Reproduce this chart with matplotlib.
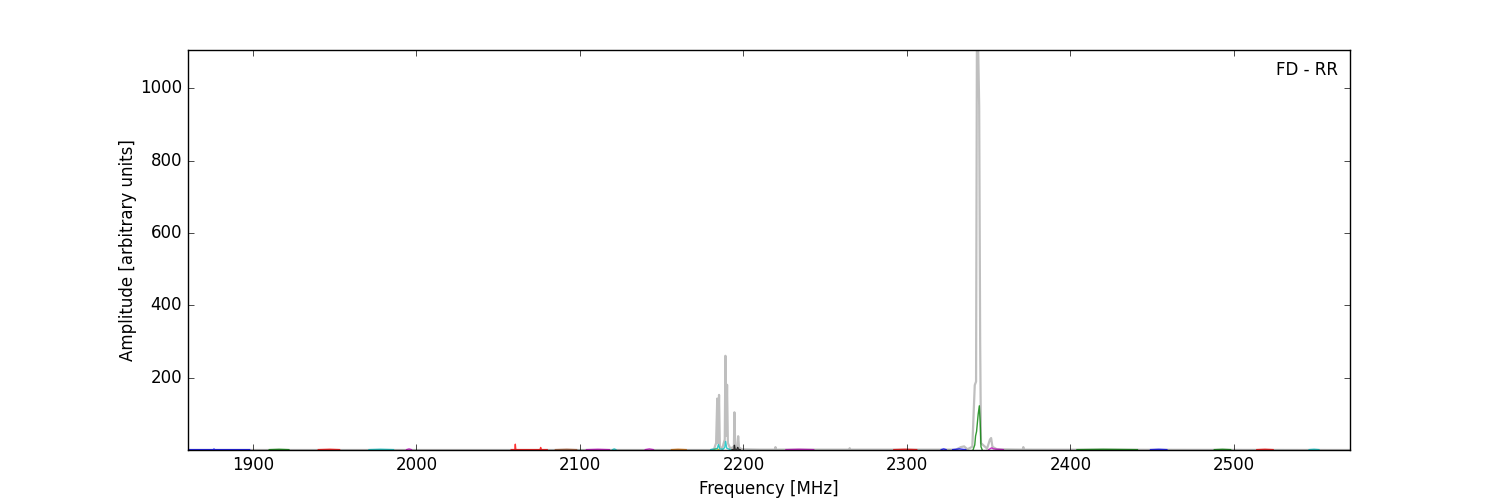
import numpy as np
import matplotlib
matplotlib.use('Agg')
from matplotlib import pyplot as plt

# Espectro total (cinza)
freq_total = [1860, 2180, 2182, 2183.3, 2184.0, 2184.5, 2185.1, 2185.6, 2187, 2188.6,
              2189.0, 2189.5, 2190.0, 2190.5, 2192, 2194.2, 2194.5, 2195, 2196.3, 2196.8,
              2197.3, 2199, 2210, 2219.3, 2219.6, 2220, 2264.8, 2265, 2265.3, 2330,
              2333, 2335, 2337, 2340, 2341.5, 2342.3, 2342.8, 2343.6, 2344.2, 2344.8,
              2345.3, 2349, 2350.8, 2351.5, 2352.3, 2355, 2370.8, 2371.2, 2371.6, 2571]
amp_total = [1, 1, 3, 20, 143, 20, 153, 10, 5, 30,
             261, 40, 181, 20, 5, 10, 105, 8, 10, 39,
             8, 3, 2, 2, 9, 2, 2, 6, 2, 2,
             9, 11, 3, 10, 180, 190, 1105, 1105, 950, 300,
             20, 5, 30, 34, 10, 3, 2, 9, 2, 1]

# Componentes individuais (coloridos)
seg_freqs = [
    [1860, 1860.4, 1861, 1875.8, 1876.2, 1876.6, 1898],
    [1910, 1916, 1922],
    [1940, 1947, 1953],
    [1971, 1978, 1986],
    [1994, 1995.5, 1997],
    [2058, 2060.2, 2060.5, 2060.8, 2075.6, 2076, 2076.4, 2080],
    [2085, 2092, 2098],
    [2104, 2111, 2118],
    [2120, 2121, 2122],
    [2140, 2142.5, 2145],
    [2156, 2160, 2165],
    [2182, 2183.5, 2185],
    [2180, 2184.0, 2184.7, 2185.5, 2187.5, 2188.6, 2189.1, 2189.8, 2192],
    [2193, 2194.2, 2194.5, 2194.9, 2196.1, 2196.5, 2196.9, 2198],
    [2226, 2234, 2243],
    [2292, 2299, 2306],
    [2321, 2322.5, 2324],
    [2328, 2332, 2336],
    [2340.5, 2341.5, 2342.0, 2342.6, 2343.6, 2344.3, 2344.8, 2345.3, 2346],
    [2350, 2351.8, 2353, 2359],
    [2404, 2420, 2441],
    [2449, 2454, 2459],
    [2488, 2493, 2498],
    [2514, 2519, 2524],
    [2546, 2549, 2552],
]
seg_amps = [
    [6, 2, 2, 2, 4, 2, 2],
    [2, 3, 2],
    [2, 3, 2],
    [2, 3, 2],
    [2, 4, 2],
    [2, 2, 17, 2, 2, 8, 2, 2],
    [2, 3, 2],
    [2, 3, 2],
    [2, 4, 2],
    [2, 4, 2],
    [2, 3, 2],
    [2, 5, 2],
    [2, 5, 16, 4, 3, 8, 25, 6, 2],
    [2, 3, 14, 3, 3, 8, 3, 2],
    [2, 3, 2],
    [2, 3, 2],
    [2, 4, 2],
    [2, 4, 2],
    [2, 15, 40, 52, 100, 123, 80, 10, 2],
    [2, 7, 4, 2],
    [2, 3, 2],
    [2, 3, 2],
    [2, 3, 2],
    [2, 3, 2],
    [2, 3, 2],
]
seg_colors = ['b', 'g', 'r', 'c', 'm', 'r', '#a0522d', 'm', 'c', 'm', '#cc6600', 'y',
              'c', 'k', 'm', 'r', 'b', 'b', 'g', 'm', 'g', 'b', 'g', 'r', 'c']

plt.style.use('classic')
fig = plt.figure(figsize=(15, 5), dpi=100)
ax = fig.add_subplot(111)

ax.plot(freq_total, amp_total, color='0.75', lw=1.6)
for f, a, c in zip(seg_freqs, seg_amps, seg_colors):
    ax.plot(f, a, color=c, lw=1, alpha=0.8)

ax.set_xlim(1860, 2571)
ax.set_ylim(1, 1105)
ax.set_xlabel('Frequency [MHz]')
ax.set_ylabel('Amplitude [arbitrary units]', labelpad=2)
ax.text(0.99, 0.95, 'FD - RR', ha='right', va='center', transform=ax.transAxes)

fig.savefig('out.png', dpi=100, facecolor='white')
